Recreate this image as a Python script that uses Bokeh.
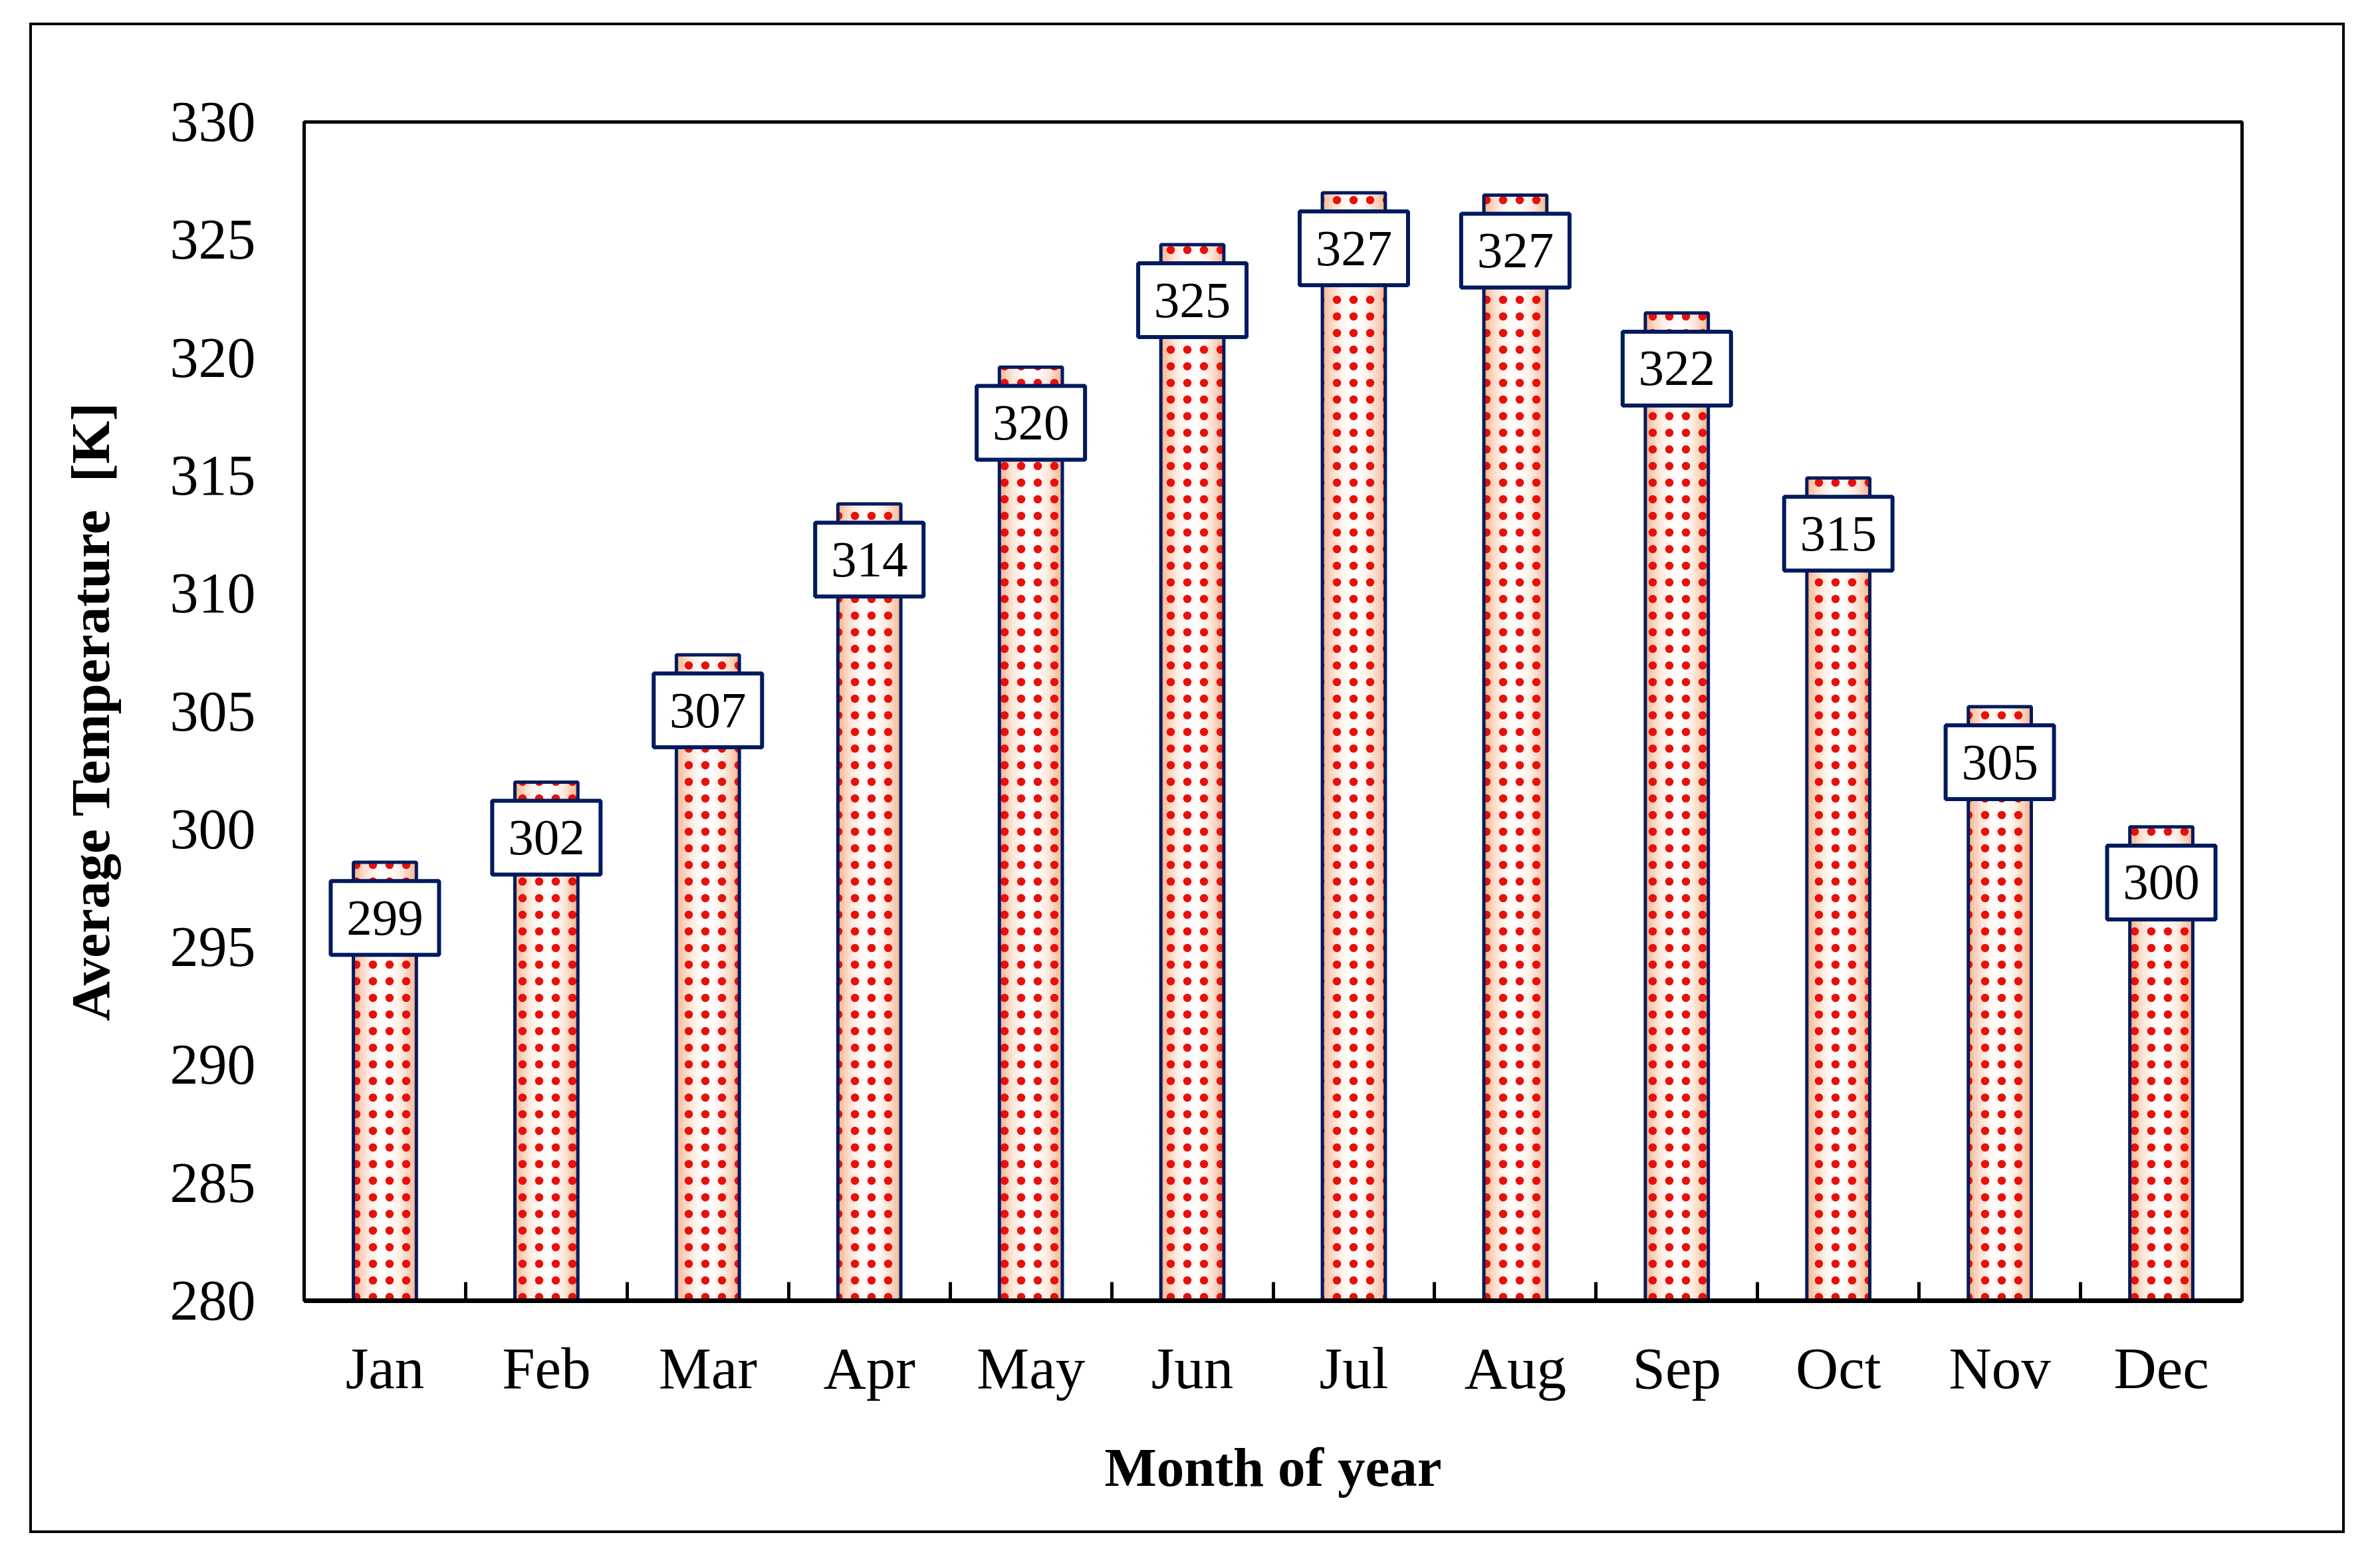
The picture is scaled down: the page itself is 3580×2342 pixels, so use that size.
from bokeh.plotting import figure
from bokeh.models import Range1d, FixedTicker
from bokeh.embed import file_html
from bokeh.resources import INLINE
from bokeh.core.properties import value

# ---------------- data ----------------
months = ["Jan", "Feb", "Mar", "Apr", "May", "Jun",
          "Jul", "Aug", "Sep", "Oct", "Nov", "Dec"]
temps = [298.6, 302.0, 307.4, 313.8, 319.6, 324.8,
         327.0, 326.9, 321.9, 314.9, 305.2, 300.1]
temp_labels = ["299", "302", "307", "314", "320", "325",
               "327", "327", "322", "315", "305", "300"]
y_ticks = [280, 285, 290, 295, 300, 305, 310, 315, 320, 325, 330]

# ---------------- style ----------------
FONT = "Liberation Serif"
NAVY = "#001a5e"
RED = "#e8100a"
W, H = 3483, 2272          # outer (bordered) box, border-box sizing
bar_w = 0.39
y_lo, y_hi = y_ticks[0], y_ticks[-1]

xs = [i + 0.5 for i in range(len(months))]
label_y = [t - 2.36 for t in temps]

p = figure(width=W, height=H, output_backend="svg", toolbar_location=None,
           x_range=Range1d(0, len(months)), y_range=Range1d(y_lo, y_hi),
           min_border_left=409, min_border_right=159,
           min_border_top=145, min_border_bottom=354,
           background_fill_color="white", border_fill_color="white")
p.margin = (34, 0, 0, 44)
p.styles = {"border": "4px solid black", "box-sizing": "border-box"}

p.xgrid.visible = False
p.ygrid.visible = False
p.outline_line_color = "black"
p.outline_line_width = 5

# gradient body of bars (edge peach -> white centre)
edge = (248, 184, 148)
centre = (255, 253, 251)
n = 10
for k in range(n):
    t = k / (n - 1)
    s = 1 - (1 - t) ** 2.0
    col = tuple(int(round(edge[i] + (centre[i] - edge[i]) * s)) for i in range(3))
    p.vbar(x=xs, top=temps, bottom=y_lo, width=bar_w * (1 - 0.92 * t),
           fill_color="#%02x%02x%02x" % col, line_color=None)

# red dotted pattern + navy outline
p.vbar(x=xs, top=temps, bottom=y_lo, width=bar_w, fill_color=None,
       hatch_pattern="dot", hatch_color=RED, hatch_scale=25, hatch_weight=4,
       line_color=NAVY, line_width=5)

# value label boxes
p.rect(x=xs, y=label_y, width=163, height=111, width_units="screen",
       height_units="screen", fill_color="white", line_color=NAVY, line_width=6)
p.text(x=xs, y=label_y, text=temp_labels, text_font=value(FONT),
       text_font_size="77px", text_align="center", text_baseline="middle",
       text_color="black")

# x axis
xa = p.xaxis[0]
xa.ticker = FixedTicker(ticks=xs, minor_ticks=list(range(len(months) + 1)))
xa.major_label_overrides = {x: m for x, m in zip(xs, months)}
xa.major_tick_in = 0
xa.major_tick_out = 0
xa.minor_tick_in = 28
xa.minor_tick_out = 0
xa.minor_tick_line_width = 5
xa.minor_tick_line_color = "black"
xa.axis_line_width = 7
xa.axis_line_color = "black"
xa.major_label_text_font = FONT
xa.major_label_text_font_size = "89px"
xa.major_label_text_color = "black"
xa.major_label_standoff = 52
xa.axis_label = "Month of year"
xa.axis_label_text_font = FONT
xa.axis_label_text_font_style = "bold"
xa.axis_label_text_font_size = "83px"
xa.axis_label_text_color = "black"
xa.axis_label_standoff = 51

# y axis
ya = p.yaxis[0]
ya.ticker = FixedTicker(ticks=y_ticks)
ya.major_tick_in = 0
ya.major_tick_out = 0
ya.minor_tick_in = 0
ya.minor_tick_out = 0
ya.axis_line_width = 5
ya.axis_line_color = "black"
ya.major_label_text_font = FONT
ya.major_label_text_font_size = "86px"
ya.major_label_text_color = "black"
ya.major_label_standoff = 73
ya.axis_label = "Average Temperature\u00a0\u00a0[K]"
ya.axis_label_text_font = FONT
ya.axis_label_text_font_style = "bold"
ya.axis_label_text_font_size = "83px"
ya.axis_label_text_color = "black"
ya.axis_label_standoff = 71

open("out.html", "w").write(file_html(p, INLINE))
